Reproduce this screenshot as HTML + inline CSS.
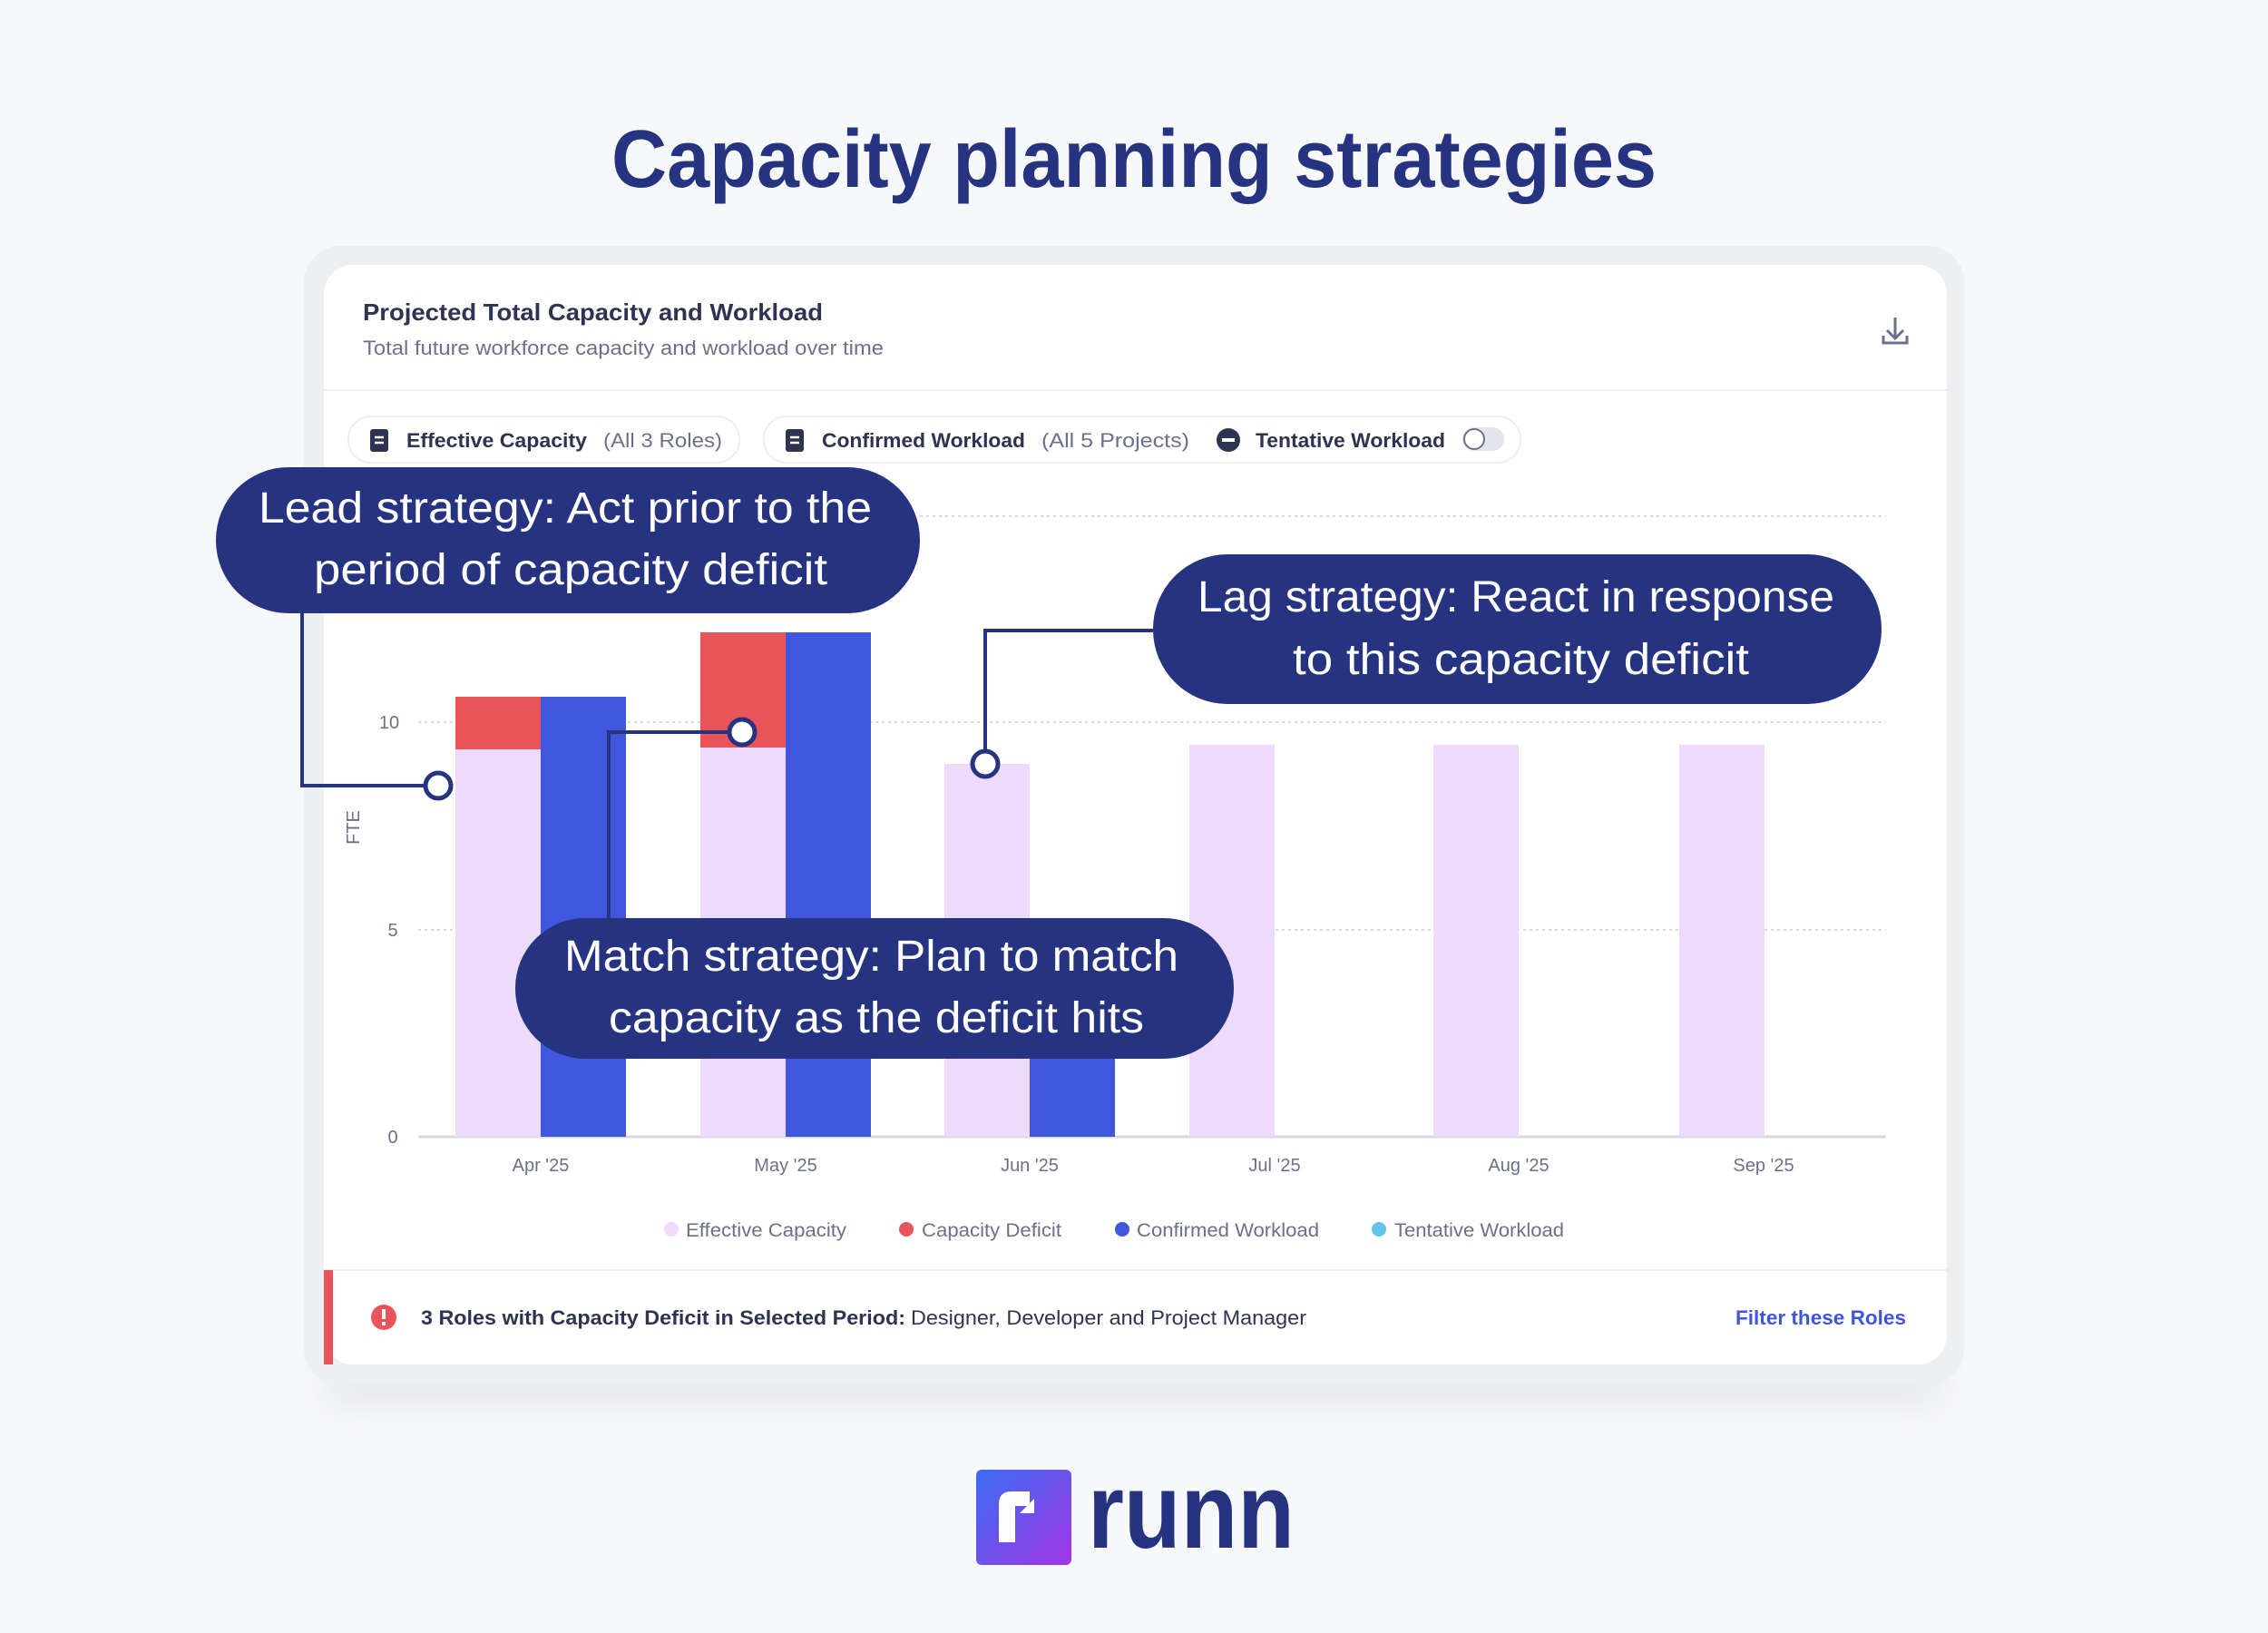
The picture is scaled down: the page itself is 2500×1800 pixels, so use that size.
<!DOCTYPE html>
<html><head><meta charset="utf-8"><style>
html,body{margin:0;padding:0;background:#f7f8fa;}
svg{display:block;font-family:"Liberation Sans",sans-serif;}
</style></head><body>
<svg width="2500" height="1800" viewBox="0 0 2500 1800" xmlns="http://www.w3.org/2000/svg">
<defs>
<filter id="sh" x="-10%" y="-10%" width="120%" height="130%"><feGaussianBlur stdDeviation="18"/></filter>
<linearGradient id="lg" x1="0" y1="0" x2="1" y2="1"><stop offset="0" stop-color="#3a6cf0"/><stop offset="1" stop-color="#a236e6"/></linearGradient>
</defs>
<rect width="2500" height="1800" fill="#f7f8fa"/>
<text x="1250" y="206" text-anchor="middle" font-size="90" font-weight="bold" fill="#263381" textLength="1152" lengthAdjust="spacingAndGlyphs">Capacity planning strategies</text>

<!-- card -->
<rect x="360" y="1380" width="1780" height="170" fill="#e8e9ec" filter="url(#sh)"/>
<rect x="335" y="271" width="1830" height="1256" rx="40" fill="#eeeff1"/>
<rect x="357" y="292" width="1789" height="1212" rx="32" fill="#ffffff"/>
<text x="400" y="353" font-size="26" font-weight="bold" fill="#2e3352" textLength="507" lengthAdjust="spacingAndGlyphs">Projected Total Capacity and Workload</text>
<text x="400" y="391" font-size="22" fill="#6c7089" textLength="574" lengthAdjust="spacingAndGlyphs">Total future workforce capacity and workload over time</text>
<g stroke="#6c7089" stroke-width="3" fill="none"><path d="M2089 350v22M2080 364l9 9 9-9M2076 370v8h26v-8"/></g>
<line x1="357" y1="430" x2="2146" y2="430" stroke="#f0f1f4" stroke-width="2"/>

<!-- pills -->
<rect x="384" y="459" width="431" height="51" rx="25" fill="#fff" stroke="#eceef2" stroke-width="2"/>
<rect x="842" y="459" width="834" height="51" rx="25" fill="#fff" stroke="#eceef2" stroke-width="2"/>
<g fill="#2e3352"><rect x="408" y="473" width="20" height="25" rx="3"/><rect x="866" y="473" width="20" height="25" rx="3"/></g>
<g stroke="#fff" stroke-width="2.5"><path d="M413 482h10M413 488h10M871 482h10M871 488h10"/></g>
<text x="448" y="493" font-size="22" font-weight="bold" fill="#2e3352" textLength="199" lengthAdjust="spacingAndGlyphs">Effective Capacity</text>
<text x="665" y="493" font-size="22" fill="#6c7089" textLength="131" lengthAdjust="spacingAndGlyphs">(All 3 Roles)</text>
<text x="906" y="493" font-size="22" font-weight="bold" fill="#2e3352" textLength="224" lengthAdjust="spacingAndGlyphs">Confirmed Workload</text>
<text x="1148" y="493" font-size="22" fill="#6c7089" textLength="163" lengthAdjust="spacingAndGlyphs">(All 5 Projects)</text>
<circle cx="1354" cy="485" r="13" fill="#2e3352"/><rect x="1347" y="483" width="14" height="4" fill="#fff"/>
<text x="1384" y="493" font-size="22" font-weight="bold" fill="#2e3352" textLength="209" lengthAdjust="spacingAndGlyphs">Tentative Workload</text>
<rect x="1612" y="471" width="46" height="26" rx="13" fill="#e4e5ea"/><circle cx="1625" cy="484" r="11" fill="#fff" stroke="#6c7089" stroke-width="2"/>

<!-- grid -->
<g stroke="#d8dae0" stroke-width="2" stroke-dasharray="3 4">
<line x1="461" y1="569" x2="2079" y2="569"/><line x1="461" y1="796" x2="2079" y2="796"/><line x1="461" y1="1025" x2="2079" y2="1025"/></g>
<line x1="461" y1="1253" x2="2079" y2="1253" stroke="#d6d8de" stroke-width="3"/>
<g font-size="20" fill="#6c7089" text-anchor="middle">
<text x="429" y="803">10</text><text x="433" y="1032">5</text><text x="433" y="1260">0</text>
<text transform="translate(396 912) rotate(-90)">FTE</text>
<text x="596" y="1291">Apr '25</text><text x="866" y="1291">May '25</text><text x="1135" y="1291">Jun '25</text>
<text x="1405" y="1291">Jul '25</text><text x="1674" y="1291">Aug '25</text><text x="1944" y="1291">Sep '25</text>
</g>
<!-- bars -->
<g fill="#eedafc">
<rect x="502" y="826" width="94" height="427"/><rect x="772" y="824" width="94" height="429"/>
<rect x="1041" y="842" width="94" height="411"/><rect x="1311" y="821" width="94" height="432"/>
<rect x="1580" y="821" width="94" height="432"/><rect x="1851" y="821" width="94" height="432"/></g>
<g fill="#e9545a"><rect x="502" y="768" width="94" height="58"/><rect x="772" y="697" width="94" height="127"/></g>
<g fill="#4056dc"><rect x="596" y="768" width="94" height="485"/><rect x="866" y="697" width="94" height="556"/><rect x="1135" y="1080" width="94" height="173"/></g>

<!-- legend -->
<g font-size="21" fill="#6c7089">
<circle cx="740" cy="1355" r="8" fill="#eedafc"/><text x="756" y="1363" textLength="177" lengthAdjust="spacingAndGlyphs">Effective Capacity</text>
<circle cx="999" cy="1355" r="8" fill="#e9545a"/><text x="1016" y="1363" textLength="154" lengthAdjust="spacingAndGlyphs">Capacity Deficit</text>
<circle cx="1237" cy="1355" r="8" fill="#4056dc"/><text x="1253" y="1363" textLength="201" lengthAdjust="spacingAndGlyphs">Confirmed Workload</text>
<circle cx="1520" cy="1355" r="8" fill="#63c3ea"/><text x="1537" y="1363" textLength="187" lengthAdjust="spacingAndGlyphs">Tentative Workload</text>
</g>

<!-- footer -->
<line x1="357" y1="1400" x2="2146" y2="1400" stroke="#eceef2" stroke-width="2"/>
<path d="M357 1400h10v104h-10z" fill="#e9545a"/>
<circle cx="423" cy="1452" r="14" fill="#e9545a"/><rect x="421" y="1443" width="4" height="11" fill="#fff"/><rect x="421" y="1457" width="4" height="4" fill="#fff"/>
<text x="464" y="1460" font-size="22" font-weight="bold" fill="#2e3352" textLength="534" lengthAdjust="spacingAndGlyphs">3 Roles with Capacity Deficit in Selected Period:</text>
<text x="1004" y="1460" font-size="22" fill="#2e3352" textLength="436" lengthAdjust="spacingAndGlyphs">Designer, Developer and Project Manager</text>
<text x="1913" y="1460" font-size="22" font-weight="bold" fill="#3e55dc" textLength="188" lengthAdjust="spacingAndGlyphs">Filter these Roles</text>

<!-- connectors -->
<g stroke="#263381" stroke-width="4" fill="none">
<path d="M333 676V866H470"/>
<path d="M671 1012V807H804"/>
<path d="M1086 828V695H1271"/>
</g>
<g stroke="#263381" stroke-width="5" fill="#fff">
<circle cx="483" cy="866" r="14"/><circle cx="818" cy="807" r="14"/><circle cx="1086" cy="842" r="14"/>
</g>

<!-- bubbles -->
<g fill="#263381">
<rect x="238" y="515" width="776" height="161" rx="80"/>
<rect x="1271" y="611" width="803" height="165" rx="82"/>
<rect x="568" y="1012" width="792" height="155" rx="77"/>
</g>
<g fill="#fff" font-size="48">
<text x="285" y="576" textLength="676" lengthAdjust="spacingAndGlyphs">Lead strategy: Act prior to the</text>
<text x="346" y="644" textLength="566" lengthAdjust="spacingAndGlyphs">period of capacity deficit</text>
<text x="1320" y="674" textLength="702" lengthAdjust="spacingAndGlyphs">Lag strategy: React in response</text>
<text x="1425" y="743" textLength="503" lengthAdjust="spacingAndGlyphs">to this capacity deficit</text>
<text x="622" y="1070" textLength="677" lengthAdjust="spacingAndGlyphs">Match strategy: Plan to match</text>
<text x="671" y="1138" textLength="590" lengthAdjust="spacingAndGlyphs">capacity as the deficit hits</text>
</g>

<!-- logo -->
<rect x="1076" y="1620" width="105" height="105" rx="6" fill="url(#lg)"/>
<path d="M1101 1700v-42q0-14 14-14h20v16h-16v40z" fill="#fff"/>
<path d="M1124 1668h16v-16" fill="#fff"/>
<text x="1199" y="1706" font-size="118" font-weight="bold" fill="#263381" textLength="228" lengthAdjust="spacingAndGlyphs">runn</text>
</svg>
</body></html>
